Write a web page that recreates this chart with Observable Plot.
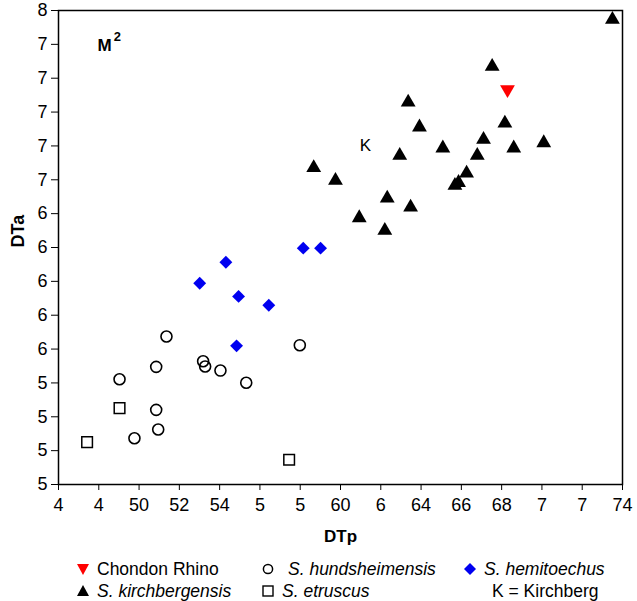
<!DOCTYPE html>
<html><head><meta charset="utf-8">
<script src="https://cdn.jsdelivr.net/npm/d3@7"></script>
<script src="https://cdn.jsdelivr.net/npm/@observablehq/plot@0.6"></script>
<style>
body{margin:0;background:#fff;font-family:"Liberation Sans",Arial,sans-serif;}
#chart g[aria-label="x-axis tick label"], #chart g[aria-label="y-axis tick label"]{font-size:18px}
#legend{position:relative;width:637px;height:51px;font-size:17.5px;color:#000}
.item{position:absolute;height:22px;line-height:22px;display:flex;align-items:center;white-space:nowrap}
.item svg{flex:none}
</style></head><body>
<div id="chart"></div>
<div id="legend"></div>
<script>
// Tick values and labels as printed
const xTicks = [46,48,50,52,54,56,58,60,62,64,66,68,70,72,74];
const xTickLabels = ["4","4","50","52","54","5","5","60","6","64","66","68","7","7","74"];
const yTicks = [50,52,54,56,58,60,62,64,66,68,70,72,74,76,78];
const yTickLabels = ["5","5","5","5","6","6","6","6","6","7","7","7","7","7","8"];

// Chondon Rhino
const chondonX = [68.29];
const chondonY = [73.33];
// S. kirchbergensis
const kirchX = [73.50,67.53,63.36,63.92,68.16,67.10,70.09,65.08,68.60,62.94,66.79,58.67,59.75,66.26,65.68,65.86,62.32,63.48,60.93,62.20];
const kirchY = [77.47,74.69,72.58,71.11,71.34,70.38,70.18,69.87,69.87,69.43,69.43,68.71,67.96,68.39,67.66,67.83,66.91,66.38,65.75,65.00];
// S. hemitoechus
const hemiX = [58.15,59.01,54.31,53.01,54.94,56.44,54.84];
const hemiY = [63.96,63.96,63.13,61.89,61.11,60.59,58.19];
// S. hundsheimensis
const hundX = [51.36,57.98,53.18,53.28,50.85,54.04,49.03,55.32,50.85,50.95,49.77];
const hundY = [58.74,58.23,57.28,56.97,56.95,56.73,56.22,56.01,54.41,53.25,52.73];
// S. etruscus
const etrX = [49.03,47.42,57.45];
const etrY = [54.51,52.50,51.46];

// annotations
const annoText = ["K"];
const annoX = [61.24];
const annoY = [70.02];
const panelMain = ["M"];
const panelMainX = [47.94];
const panelMainY = [75.93];
const panelSup = ["2"];
const panelSupX = [48.74];
const panelSupY = [76.42];

const xLabel = "DTp";
const yLabel = "DTa";

const pts = (xs, ys) => xs.map((x, i) => ({x, y: ys[i]}));
const lbl = (ts, xs, ys) => ts.map((t, i) => ({t, x: xs[i], y: ys[i]}));
const font = '"Liberation Sans", Arial, sans-serif';

const chart = Plot.plot({
  width: 637,
  height: 550,
  marginLeft: 58,
  marginRight: 15,
  marginTop: 10,
  marginBottom: 66,
  style: {fontFamily: font, fontSize: "17px", color: "#000", background: "#fff"},
  x: {domain: [46, 74]},
  y: {domain: [50, 78]},
  marks: [
    Plot.frame({stroke: "#000", strokeWidth: 1.5}),
    Plot.axisX({ticks: xTicks, tickFormat: d => xTickLabels[xTicks.indexOf(d)], tickSize: 6, tickPadding: 8, label: null, fontSize: 18}),
    Plot.axisY({ticks: yTicks, tickFormat: d => yTickLabels[yTicks.indexOf(d)], tickSize: 7, tickPadding: 4, label: null, fontSize: 18}),
    Plot.text([xLabel], {frameAnchor: "bottom", dy: 57, text: d => d, fontWeight: "bold", fontSize: 17}),
    Plot.text([yLabel], {frameAnchor: "left", dx: -40, rotate: -90, text: d => d, fontWeight: "bold", fontSize: 18}),
    Plot.dot(pts(etrX, etrY), {x: "x", y: "y", symbol: "square", r: 6, stroke: "#000", strokeWidth: 1.5, fill: "none"}),
    Plot.dot(pts(hundX, hundY), {x: "x", y: "y", symbol: "circle", r: 5.5, stroke: "#000", strokeWidth: 1.6, fill: "none"}),
    Plot.dot(pts(hemiX, hemiY), {x: "x", y: "y", symbol: "diamond2", r: 5.8, fill: "#0000f0", stroke: "none"}),
    Plot.dot(pts(kirchX, kirchY), {x: "x", y: "y", symbol: "triangle", r: 5.5, fill: "#000", stroke: "none"}),
    Plot.dot(pts(chondonX, chondonY), {x: "x", y: "y", symbol: "triangle", r: 5.5, rotate: 180, fill: "#ff0000", stroke: "none"}),
    Plot.text(lbl(annoText, annoX, annoY), {x: "x", y: "y", text: "t", fontSize: 17}),
    Plot.text(lbl(panelMain, panelMainX, panelMainY), {x: "x", y: "y", text: "t", fontSize: 17, fontWeight: "bold", textAnchor: "start"}),
    Plot.text(lbl(panelSup, panelSupX, panelSupY), {x: "x", y: "y", text: "t", fontSize: 13, fontWeight: "bold", textAnchor: "start"})
  ]
});
document.getElementById("chart").appendChild(chart);

// Legend
const legendItems = [
  {label: "Chondon Rhino", italic: false, sym: "down", left: 76, top: 8},
  {label: "S. hundsheimensis", italic: true, sym: "circle", left: 261, top: 8},
  {label: "S. hemitoechus", italic: true, sym: "diamond", left: 463, top: 8},
  {label: "S. kirchbergensis", italic: true, sym: "up", left: 76, top: 30},
  {label: "S. etruscus", italic: true, sym: "square", left: 261, top: 30},
  {label: "K = Kirchberg", italic: false, sym: null, left: 492, top: 30}
];
const symSvg = {
  down: '<polygon points="1,3 13,3 7,14" fill="#ff0000"/>',
  up: '<polygon points="1,13 13,13 7,2" fill="#000"/>',
  circle: '<circle cx="7" cy="8" r="4.6" fill="none" stroke="#000" stroke-width="1.5"/>',
  diamond: '<polygon points="7,2 13,8 7,14 1,8" fill="#0000f0"/>',
  square: '<rect x="2" y="3" width="10" height="10" fill="none" stroke="#000" stroke-width="1.4"/>'
};
const legend = document.getElementById("legend");
for (const it of legendItems) {
  const d = document.createElement("div");
  d.className = "item";
  d.style.left = it.left + "px";
  d.style.top = it.top + "px";
  let html = "";
  if (it.sym) html += `<svg width="14" height="16" style="margin-right:${it.sym === 'circle' ? 13 : 7}px">${symSvg[it.sym]}</svg>`;
  html += `<span style="font-style:${it.italic ? 'italic' : 'normal'}">${it.label}</span>`;
  d.innerHTML = html;
  legend.appendChild(d);
}
</script>
</body></html>
